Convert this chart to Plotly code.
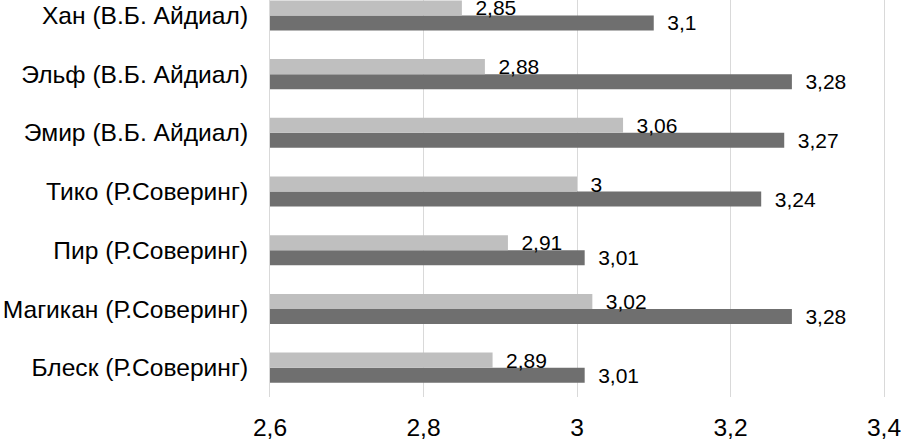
import plotly.graph_objects as go

categories = ["Блеск (Р.Соверинг)", "Магикан (Р.Соверинг)", "Пир (Р.Соверинг)",
              "Тико (Р.Соверинг)", "Эмир (В.Б. Айдиал)", "Эльф (В.Б. Айдиал)",
              "Хан (В.Б. Айдиал)"]
light_values = [2.89, 3.02, 2.91, 3.0, 3.06, 2.88, 2.85]
dark_values = [3.01, 3.28, 3.01, 3.24, 3.27, 3.28, 3.1]
x_ticks = [2.6, 2.8, 3.0, 3.2, 3.4]
x_tick_labels = ["2,6", "2,8", "3", "3,2", "3,4"]


def fmt(v):
    return "\u2002" + ("%g" % v).replace(".", ",")


font_family = "Liberation Sans, Arial, sans-serif"
label_font = dict(size=21, color="#000000", family=font_family)

fig = go.Figure()
fig.add_trace(go.Bar(
    y=categories, x=dark_values, orientation="h",
    marker=dict(color="#6f6f6f", line=dict(width=0)),
    text=[fmt(v) for v in dark_values], textposition="outside",
    textfont=label_font, constraintext="none",
    cliponaxis=False, showlegend=False,
))
fig.add_trace(go.Bar(
    y=categories, x=light_values, orientation="h",
    marker=dict(color="#bfbfbf", line=dict(width=0)),
    text=[fmt(v) for v in light_values], textposition="outside",
    textfont=label_font, constraintext="none",
    cliponaxis=False, showlegend=False,
))

fig.update_layout(
    width=901, height=439,
    margin=dict(l=270, r=15, t=0, b=42, autoexpand=False),
    barmode="group", bargap=0.488, bargroupgap=0,
    plot_bgcolor="white", paper_bgcolor="white",
    font=dict(family=font_family, size=24.6, color="#000000"),
    xaxis=dict(range=[2.6, 3.4026], tickvals=x_ticks, ticktext=x_tick_labels,
               showgrid=True, gridcolor="#d9d9d9", gridwidth=1,
               zeroline=False, showline=False, ticks="",
               ticklabelstandoff=13, automargin=False,
               ticklabeloverflow="allow",
               tickfont=dict(size=24.6, family=font_family, color="#000000")),
    yaxis=dict(range=[-0.5, 6.263], showgrid=False, zeroline=False,
               showline=True, linecolor="#d9d9d9", linewidth=1, ticks="",
               ticklabelstandoff=16, automargin=False,
               ticklabeloverflow="allow",
               tickfont=dict(size=24.6, family=font_family, color="#000000")),
)

fig.write_html(
    "out.html",
    config={"displayModeBar": False},
    post_script="document.body.style.margin='0';document.body.style.overflow='hidden';",
)
